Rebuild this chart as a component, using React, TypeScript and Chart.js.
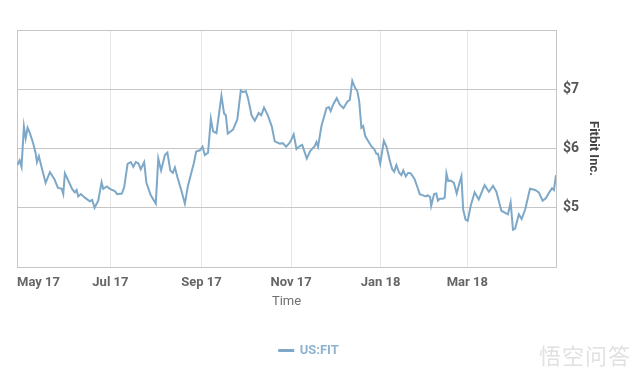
import { useEffect, useRef } from 'react';
import { Chart, registerables } from 'chart.js';

Chart.register(...registerables);

// Day offsets from 1 May 2017
const days = [
  -2.3, -0.8, 0.5, 2.1, 3.3, 4.6, 6.2, 8.4, 10.1, 11.0, 12.3, 14.2, 16.9, 19.8, 22.9, 25.2, 27.8, 28.9, 30.0, 32.3,
  35.1, 36.8, 38.0, 39.1, 40.9, 43.6, 47.0, 48.6, 50.2, 52.7, 55.0, 56.1, 58.6, 60.6, 64.0, 65.6, 68.8, 70.4, 72.7, 74.9,
  76.6, 78.3, 80.0, 81.7, 84.0, 85.5, 88.5, 91.9, 93.6, 95.5, 98.1, 99.8, 101.8, 103.5, 104.9, 106.6, 109.3, 111.7, 113.7, 116.1,
  117.8, 119.4, 121.9, 123.7, 125.3, 127.5, 129.4, 130.9, 133.2, 136.6, 138.4, 139.6, 140.9, 144.5, 147.4, 149.8, 151.3, 153.2, 154.7, 157.1,
  159.3, 162.0, 163.7, 165.6, 168.2, 170.9, 172.9, 176.3, 178.4, 180.6, 182.8, 183.8, 185.8, 187.7, 189.9, 191.6, 194.7, 197.1, 200.1, 201.3,
  202.4, 204.7, 208.1, 209.7, 211.0, 212.6, 215.1, 217.2, 219.7, 222.3, 224.0, 225.7, 227.7, 229.1, 230.4, 231.9, 233.1, 234.5, 236.9, 238.9,
  240.6, 242.1, 243.2, 244.7, 247.2, 249.0, 251.5, 252.9, 254.2, 255.7, 257.6, 259.1, 260.4, 262.1, 263.8, 265.5, 268.0, 270.0, 271.6, 273.8,
  275.7, 277.0, 278.7, 279.4, 281.4, 282.9, 284.0, 285.2, 287.4, 288.6, 289.8, 291.0, 292.7, 294.9, 296.8, 298.8, 300.0, 301.2, 302.8, 304.3,
  306.3, 309.0, 311.8, 315.8, 318.7, 321.5, 323.8, 327.2, 330.1, 331.7, 333.5, 335.1, 336.6, 339.1, 341.0, 343.4, 346.7, 350.2, 352.7, 355.3,
  357.5, 359.8, 361.7, 363.0, 364.4,
];

const prices = [
  5.72, 5.80, 5.69, 6.37, 6.17, 6.35, 6.26, 6.09, 5.92, 5.77, 5.87, 5.68, 5.42, 5.60, 5.48, 5.34, 5.32, 5.23, 5.58, 5.46,
  5.31, 5.26, 5.30, 5.19, 5.23, 5.17, 5.11, 5.13, 5.00, 5.12, 5.43, 5.32, 5.36, 5.32, 5.28, 5.23, 5.24, 5.35, 5.74, 5.77,
  5.69, 5.77, 5.75, 5.65, 5.77, 5.42, 5.21, 5.07, 5.83, 5.63, 5.89, 5.93, 5.63, 5.59, 5.68, 5.52, 5.29, 5.07, 5.36, 5.59,
  5.75, 5.95, 5.97, 6.03, 5.89, 5.93, 6.50, 6.29, 6.26, 6.89, 6.59, 6.56, 6.25, 6.32, 6.49, 6.98, 6.95, 6.97, 6.85, 6.56,
  6.47, 6.60, 6.56, 6.69, 6.56, 6.37, 6.12, 6.08, 6.09, 6.03, 6.09, 6.13, 6.24, 5.99, 6.04, 6.06, 5.83, 5.96, 6.04, 6.11,
  6.03, 6.38, 6.68, 6.70, 6.63, 6.74, 6.85, 6.74, 6.68, 6.79, 6.82, 7.14, 7.02, 6.97, 6.80, 6.35, 6.38, 6.21, 6.11, 6.03,
  5.99, 5.91, 5.91, 5.74, 6.13, 6.03, 5.77, 5.65, 5.61, 5.72, 5.59, 5.55, 5.63, 5.53, 5.59, 5.58, 5.49, 5.35, 5.23, 5.21,
  5.19, 5.21, 5.18, 5.03, 5.23, 5.24, 5.12, 5.15, 5.15, 5.17, 5.58, 5.45, 5.46, 5.42, 5.24, 5.43, 5.53, 4.97, 4.80, 4.78,
  5.03, 5.26, 5.14, 5.38, 5.27, 5.37, 5.27, 4.95, 4.91, 4.89, 5.09, 4.63, 4.65, 4.89, 4.81, 4.97, 5.32, 5.30, 5.26, 5.12,
  5.16, 5.26, 5.33, 5.30, 5.55,
];

const xMin = -2.6;
const xMax = 364.4;
const tickDays = [xMin, 61, 123, 184, 245, 304, xMax];
const tickLabels = ['May 17', 'Jul 17', 'Sep 17', 'Nov 17', 'Jan 18', 'Mar 18', ''];
const priceMin = 4;
const priceMax = 8;
const seriesName = 'US:FIT';
const xTitle = 'Time';
const yTitle = 'Fitbit Inc.';

const FONT = "'Liberation Sans Narrow', 'Roboto', 'DejaVu Sans Condensed', sans-serif";
const LINE = '#7ea8c8';

export default function App() {
  const ref = useRef<HTMLCanvasElement | null>(null);

  useEffect(() => {
    document.body.style.margin = '0';
    const canvas = ref.current;
    if (!canvas) return;
    const chart = new Chart(canvas, {
      type: 'line',
      data: {
        datasets: [
          {
            label: seriesName,
            data: days.map((d, i) => ({ x: d, y: prices[i] })),
            borderColor: LINE,
            backgroundColor: LINE,
            borderWidth: 2,
            pointRadius: 0,
            tension: 0,
          },
        ],
      },
      options: {
        animation: false,
        responsive: false,
        layout: { padding: { left: 17, right: 34, top: 30, bottom: 11 } },
        plugins: {
          tooltip: { enabled: false },
          legend: {
            position: 'bottom',
            labels: {
              color: '#8fb3cf',
              boxWidth: 14,
              boxHeight: 1,
              padding: 10,
              font: { family: FONT, size: 13, weight: 'bold' },
            },
          },
        },
        scales: {
          x: {
            type: 'linear',
            min: xMin,
            max: xMax,
            afterBuildTicks: (scale: any) => {
              scale.ticks = tickDays.map((v) => ({ value: v }));
            },
            afterFit: (scale: any) => {
              scale.height = 67;
            },
            grid: {
              drawTicks: false,
              color: (ctx: any) =>
                ctx.index === 0 || ctx.index === tickDays.length - 1 ? '#c6c6c6' : '#e6e6e6',
            },
            border: { color: '#c6c6c6' },
            ticks: {
              autoSkip: false,
              maxRotation: 0,
              align: 'inner',
              padding: 8,
              color: '#666666',
              font: { family: FONT, size: 13, weight: 'bold' },
              callback: (_v: any, i: number) => tickLabels[i],
            },
            title: {
              display: true,
              text: xTitle,
              color: '#707070',
              font: { family: FONT, size: 13 },
              padding: { top: 4, bottom: 24 },
            },
          },
          y: {
            position: 'right',
            min: priceMin,
            max: priceMax,
            afterFit: (scale: any) => {
              scale.width = 45;
            },
            grid: { drawTicks: false, color: '#c6c6c6' },
            border: { color: '#c6c6c6' },
            ticks: {
              stepSize: 1,
              padding: 7,
              color: '#555555',
              font: { family: FONT, size: 14, weight: 'bold' },
              callback: (v: any) => (v === priceMin || v === priceMax ? '' : '$' + v),
            },
            title: {
              display: true,
              text: yTitle,
              color: '#444444',
              font: { family: FONT, size: 13, weight: 'bold' },
              padding: { top: 0, bottom: 0 },
            },
          },
        },
      },
    });
    return () => chart.destroy();
  }, []);

  return (
    <div style={{ position: 'relative', width: 635, height: 378 }}>
      <canvas ref={ref} width={635} height={378} style={{ display: 'block', width: 635, height: 378 }} />
      <div
        style={{
          position: 'absolute',
          right: 4,
          top: 338,
          fontFamily: "'Noto Sans CJK SC', sans-serif",
          fontSize: 22,
          color: 'rgba(200,200,200,0.55)',
          letterSpacing: 1,
        }}
      >
        悟空问答
      </div>
    </div>
  );
}
